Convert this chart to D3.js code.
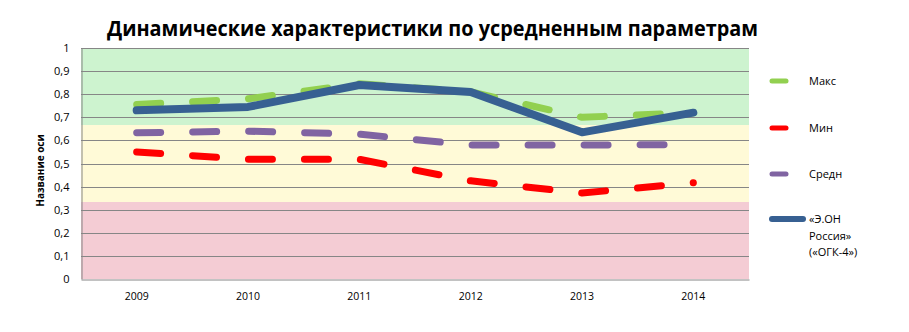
<!DOCTYPE html>
<html>
<head>
<meta charset="utf-8">
<script src="https://cdn.jsdelivr.net/npm/d3@7"></script>
<style>
  html, body { margin: 0; padding: 0; background: #ffffff; }
  svg { display: block; }
  text { font-family: "Open Sans", "Noto Sans", sans-serif; fill: #000; }
</style>
</head>
<body>
<svg id="chart" width="909" height="332"></svg>
<script>
// Years on the horizontal axis
const years = ["2009", "2010", "2011", "2012", "2013", "2014"];

// Series values
const maxValues  = [0.755, 0.78, 0.845, 0.81, 0.70, 0.72];
const minValues  = [0.55, 0.518, 0.518, 0.425, 0.372, 0.417];
const avgValues  = [0.633, 0.64, 0.627, 0.58, 0.58, 0.582];
const eonValues  = [0.73, 0.745, 0.84, 0.81, 0.635, 0.72];

// Vertical ticks and their labels
const yTicks = [0, 0.1, 0.2, 0.3, 0.4, 0.5, 0.6, 0.7, 0.8, 0.9, 1];
const yTickLabels = ["0", "0,1", "0,2", "0,3", "0,4", "0,5", "0,6", "0,7", "0,8", "0,9", "1"];

// Background zones (value ranges)
const zoneLower = [0, 1 / 3, 2 / 3];
const zoneUpper = [1 / 3, 2 / 3, 1];
const zoneColors = ["#f4ccd4", "#fffad7", "#cdf3cf"];

const seriesNames = ["Макс", "Мин", "Средн", "«Э.ОН Россия» («ОГК-4»)"];

const series = [
  { name: seriesNames[0], values: maxValues, color: "#92d050", dash: "24 32", width: 7 },
  { name: seriesNames[1], values: minValues, color: "#ff0000", dash: "24 32", width: 7 },
  { name: seriesNames[2], values: avgValues, color: "#8064a2", dash: "24 32", width: 7 },
  { name: seriesNames[3], values: eonValues, color: "#376092", dash: null, width: 8 }
];

const svg = d3.select("#chart");
const plot = { left: 81, right: 749, top: 48, bottom: 279 };

const x = d3.scaleBand().domain(years).range([plot.left, plot.right]);
const y = d3.scaleLinear().domain([0, 1]).range([plot.bottom, plot.top]);

// Title
svg.append("text")
  .attr("x", 107).attr("y", 36)
  .attr("font-size", 21).attr("font-weight", "bold")
  .attr("textLength", 651).attr("lengthAdjust", "spacingAndGlyphs")
  .text("Динамические характеристики по усредненным параметрам");

// Zones
svg.append("g").selectAll("rect")
  .data(zoneLower)
  .join("rect")
  .attr("x", plot.left)
  .attr("width", plot.right - plot.left)
  .attr("y", (d, i) => y(zoneUpper[i]))
  .attr("height", (d, i) => y(d) - y(zoneUpper[i]))
  .attr("fill", (d, i) => zoneColors[i]);

// Horizontal gridlines
svg.append("g").selectAll("line")
  .data(yTicks.slice(1))
  .join("line")
  .attr("x1", plot.left).attr("x2", plot.right)
  .attr("y1", d => Math.round(y(d)) + 0.5).attr("y2", d => Math.round(y(d)) + 0.5)
  .attr("stroke", "#868686").attr("stroke-width", 1);

// Y axis
const yAxis = d3.axisLeft(y)
  .tickValues(yTicks)
  .tickFormat((d, i) => yTickLabels[i])
  .tickSize(0).tickPadding(12);
const gy = svg.append("g")
  .attr("transform", `translate(${plot.left + 0.5},0)`)
  .call(yAxis);
gy.select(".domain").attr("stroke", "#868686");
gy.selectAll("text")
  .attr("font-family", "'Open Sans', sans-serif")
  .attr("font-size", 11);

// X axis
const xAxis = d3.axisBottom(x).tickSize(0).tickPadding(13);
const gx = svg.append("g")
  .attr("transform", `translate(0,${Math.round(plot.bottom) + 0.5})`)
  .call(xAxis);
gx.select(".domain").attr("stroke", "#868686");
gx.selectAll("text")
  .attr("font-family", "'Open Sans', sans-serif")
  .attr("font-size", 10.5);

// Axis title
svg.append("text")
  .attr("transform", `translate(44,${y(0.5) + 7}) rotate(-90)`)
  .attr("text-anchor", "middle")
  .attr("font-size", 10).attr("font-weight", "bold")
  .text("Название оси");

// Lines
const line = d3.line()
  .x((d, i) => x(years[i]) + x.bandwidth() / 2)
  .y(d => y(d));

svg.append("g").selectAll("path")
  .data(series)
  .join("path")
  .attr("d", d => line(d.values))
  .attr("fill", "none")
  .attr("stroke", d => d.color)
  .attr("stroke-width", d => d.width)
  .attr("stroke-linecap", "round")
  .attr("stroke-linejoin", "round")
  .attr("stroke-dasharray", d => d.dash);

// Legend
const legendY = [81, 128, 174, 219];
const legend = svg.append("g").selectAll("g")
  .data(series)
  .join("g")
  .attr("transform", (d, i) => `translate(0,${legendY[i]})`);

legend.append("line")
  .attr("x1", 772)
  .attr("x2", d => d.dash ? 786 : 803)
  .attr("y1", 0).attr("y2", 0)
  .attr("stroke", d => d.color)
  .attr("stroke-width", d => d.width - 2)
  .attr("stroke-linecap", "round");

const legendLines = [["Макс"], ["Мин"], ["Средн"], ["«Э.ОН", "Россия»", "(«ОГК-4»)"]];
legend.append("text")
  .attr("x", 809)
  .attr("y", 4)
  .attr("font-size", 11)
  .selectAll("tspan")
  .data((d, i) => legendLines[i])
  .join("tspan")
  .attr("x", 809)
  .attr("dy", (d, i) => i === 0 ? 0 : 16.5)
  .text(d => d);
</script>
</body>
</html>
